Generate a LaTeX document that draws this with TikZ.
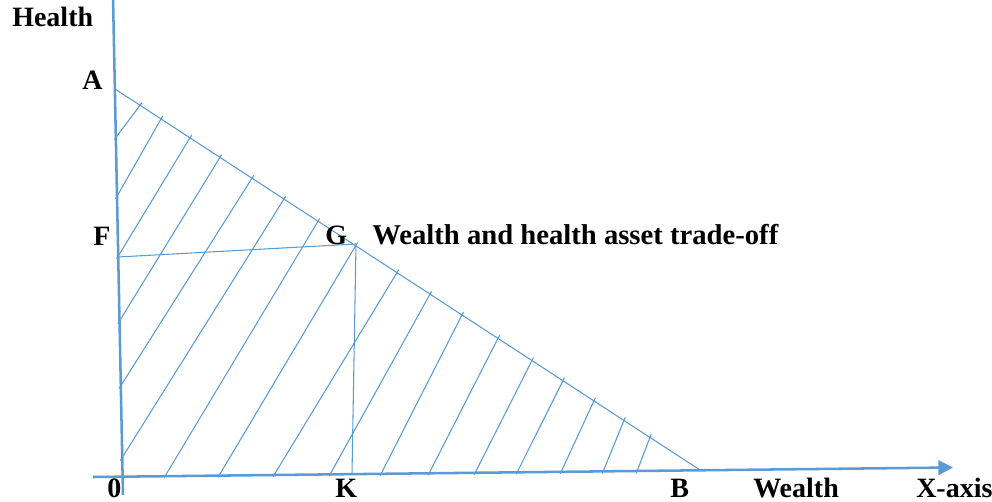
\documentclass[tikz,border=0pt]{standalone}
\usepackage{fontspec}
\setmainfont{Liberation Serif}
\usetikzlibrary{arrows.meta}
\definecolor{axblue}{RGB}{91,155,213}
\begin{document}
\begin{tikzpicture}[x=0.75pt,y=-0.75pt,
  lbl/.style={anchor=base west,inner sep=0pt,font=\bfseries\fontsize{21}{24}\selectfont,text=black},
  axisline/.style={draw=axblue,line width=1.9pt},
  thinline/.style={draw=axblue,line width=0.8pt},
  hatchline/.style={draw=axblue,line width=0.8pt,shorten <=-1.5pt,shorten >=-2.5pt}]
\useasboundingbox (0,0) rectangle (992,502);
% key points
\coordinate (yTop) at (113,-4);
\coordinate (yBot) at (123,495);
\coordinate (xL) at (93,477);
\coordinate (xR) at (953,467.5);
\coordinate (A) at (115,89);
\coordinate (B) at (700,470);
\coordinate (F) at (118,257);
\coordinate (G) at (356,244);
\coordinate (K) at (352,474);
% hatching
\foreach \lx/\ly/\ux/\uy in {
  115.5/138/140/105.3, 116.6/197/161/119.0, 117.7/257/190/137.8,
  118.9/322/220/157.4, 120/387/252/178.2, 121.3/459/284/199.0,
  165/476.2/318/221.2, 219/475.7/356/245.2, 274/475.1/397/272.6,
  330/474.5/430/294.1, 381/474/462/314.9, 429/473.5/498/338.3,
  475/473/532/360.5, 517/472.5/563/380.6, 561/472.1/594/400.8,
  603/471.7/624/420.4, 637/471.3/650/437.3}
  \draw[hatchline] (\lx,\ly) -- (\ux,\uy);
% trade-off line and construction lines
\draw[thinline] (A) -- (B);
\draw[thinline] (F) -- (G);
\draw[thinline] (G) -- (K);
% axes
\draw[axisline] (yTop) -- (yBot);
\draw[axisline,-{Triangle[length=11pt,width=11pt]}] (xL) -- (xR);
% labels
\node[lbl] (lHealth) at (12,27) {Health};
\node[lbl] (lA) at (82,90) {A};
\node[lbl] (lF) at (93,246) {F};
\node[lbl] (lG) at (325,245) {G};
\node[lbl,font=\bfseries\fontsize{21.5}{24}\selectfont] (lTitle) at (372,245) {Wealth and health asset trade-off};
\node[lbl] (lO) at (107,497) {0};
\node[lbl] (lK) at (335,497) {K};
\node[lbl] (lB) at (670,497) {B};
\node[lbl] (lWealth) at (753,497) {Wealth};
\node[lbl] (lX) at (916,497) {X-axis};
\end{tikzpicture}
\end{document}
